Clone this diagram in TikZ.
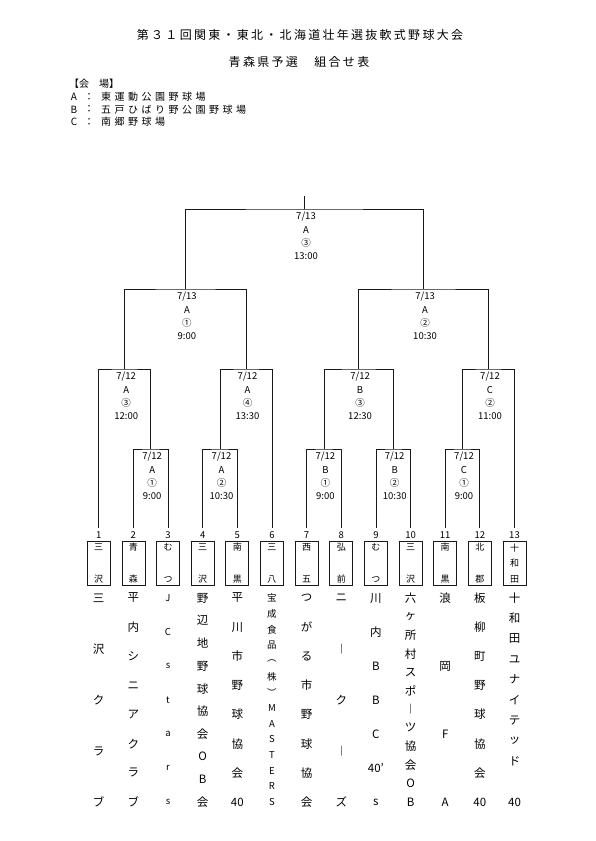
\documentclass[tikz,border=0pt]{standalone}
\usepackage{fontspec}
\setmainfont{Noto Sans CJK JP}
\usepackage{tikz}
\usetikzlibrary{positioning}
\definecolor{ink}{RGB}{25,25,25}

% team name written down the page, one glyph per slot
\newcommand{\tname}[4][namechar]{%
  \foreach \ch [count=\k] in {#4}
    \node[#1] (n#2-\k) at ({98.7+(#2-1)*34.65}, {598+(\k-1)*204/(#3-1)}) {\ch};
}

\begin{document}
\begin{tikzpicture}[
    x=1pt, y=-1pt,
    bracket/.style={draw=ink, line width=0.8pt},
    match/.style={font=\fontsize{9.5}{13.3}\selectfont, align=center, inner sep=0pt, anchor=north, yshift=-3pt, xshift=1.5pt},
    seednum/.style={font=\fontsize{9.5}{10}\selectfont, inner sep=0pt},
    seedbox/.style={draw=ink, line width=0.7pt, minimum width=23pt, minimum height=44pt, inner sep=0pt, align=center, font=\fontsize{9}{15.5}\selectfont},
    namechar/.style={font=\fontsize{11.5}{13}\selectfont, inner sep=0pt},
    namesmall/.style={font=\fontsize{9.5}{10}\selectfont, inner sep=0pt},
    title/.style={font=\fontsize{12}{14}\selectfont\addfontfeature{LetterSpace=19}, inner sep=0pt},
    venue/.style={font=\fontsize{10}{12}\selectfont\addfontfeature{LetterSpace=35}, inner sep=0pt}
]
\useasboundingbox (0,0) rectangle (595,841);

% Title
\node[title] (title1) at (300,35) {第３１回関東・東北・北海道壮年選抜軟式野球大会};
\node[title] (title2) at (299,62) {青森県予選　組合せ表};

% Venues
\node[venue, anchor=west, font=\fontsize{10}{12}\selectfont] (vhead) at (69,84) {【会\hspace{10pt}場】};
\foreach \key/\place [count=\r] in {A/東運動公園野球場, B/五戸ひばり野公園野球場, C/南郷野球場} {
  \node[venue] (vk\r) at (74, {84+\r*12.7}) {\key};
  \node[venue] (vc\r) at (89, {84+\r*12.7}) {：};
  \node[venue, anchor=west] (vn\r) at (101, {84+\r*12.7}) {\place};
}

% Teams
\foreach \i in {1,...,13}
  \coordinate (t\i) at ({98.7+(\i-1)*34.65},528);

% Match points
\coordinate (r23) at (150.7,449);
\coordinate (r45) at (220,449);
\coordinate (r78) at (323.9,449);
\coordinate (r910) at (393.2,449);
\coordinate (r1112) at (462.5,449);
\coordinate (q1) at (124.7,369);
\coordinate (q2) at (246,369);
\coordinate (q3) at (358.6,369);
\coordinate (q4) at (488.5,369);
\coordinate (s1) at (185.4,289);
\coordinate (s2) at (423.6,289);
\coordinate (f) at (304.5,209);
\coordinate (top) at (304.5,196);

% Bracket lines
\draw[bracket] (t2) |- (r23) -| (t3);
\draw[bracket] (t4) |- (r45) -| (t5);
\draw[bracket] (t7) |- (r78) -| (t8);
\draw[bracket] (t9) |- (r910) -| (t10);
\draw[bracket] (t11) |- (r1112) -| (t12);
\draw[bracket] (t1) |- (q1) -| (r23);
\draw[bracket] (r45) |- (q2) -| (t6);
\draw[bracket] (r78) |- (q3) -| (r910);
\draw[bracket] (r1112) |- (q4) -| (t13);
\draw[bracket] (q1) |- (s1) -| (q2);
\draw[bracket] (q3) |- (s2) -| (q4);
\draw[bracket] (s1) |- (f) -| (s2);
\draw[bracket] (f) -- (top);

% Match labels
\node[match] (lr23) at (r23) {7/12\\A\\①\\9:00};
\node[match] (lr45) at (r45) {7/12\\A\\②\\10:30};
\node[match] (lr78) at (r78) {7/12\\B\\①\\9:00};
\node[match] (lr910) at (r910) {7/12\\B\\②\\10:30};
\node[match] (lr1112) at (r1112) {7/12\\C\\①\\9:00};
\node[match] (lq1) at (q1) {7/12\\A\\③\\12:00};
\node[match] (lq2) at (q2) {7/12\\A\\④\\13:30};
\node[match] (lq3) at (q3) {7/12\\B\\③\\12:30};
\node[match] (lq4) at (q4) {7/12\\C\\②\\11:00};
\node[match] (ls1) at (s1) {7/13\\A\\①\\9:00};
\node[match] (ls2) at (s2) {7/13\\A\\②\\10:30};
\node[match] (lf) at (f) {7/13\\A\\③\\13:00};

% Seeds
\foreach \i/\a/\b in {1/三/沢, 2/青/森, 3/む/つ, 4/三/沢, 5/南/黒, 6/三/八, 7/西/五, 8/弘/前, 9/む/つ, 10/三/沢, 11/南/黒, 12/北/郡} {
  \node[seednum, below=3.5pt of t\i] (num\i) {\i};
  \node[seedbox, below=2pt of num\i] (box\i) {\a\\[16.5pt]\b};
}
\node[seednum, below=3.5pt of t13] (num13) {13};
\node[seedbox, below=2pt of num13] (box13) {十\\和\\田};

% Team names
\tname{1}{5}{三,沢,ク,ラ,ブ}
\tname{2}{8}{平,内,シ,ニ,ア,ク,ラ,ブ}
\tname[namesmall]{3}{7}{J,C,s,t,a,r,s}
\tname{4}{10}{野,辺,地,野,球,協,会,O,B,会}
\tname{5}{8}{平,川,市,野,球,協,会,40}
\tname[namesmall]{6}{14}{宝,成,食,品,︵,株,︶,M,A,S,T,E,R,S}
\tname{7}{8}{つ,が,る,市,野,球,協,会}
\tname{8}{5}{ニ,︱,ク,︱,ズ}
\tname{9}{7}{川,内,B,B,C,40',s}
\tname{10}{12}{六,ヶ,所,村,ス,ポ,︱,ツ,協,会,O,B}
\tname{11}{4}{浪,岡,F,A}
\tname{12}{8}{板,柳,町,野,球,協,会,40}
\tname{13}{11}{十,和,田,ユ,ナ,イ,テ,ッ,ド,{},40}

\end{tikzpicture}
\end{document}
